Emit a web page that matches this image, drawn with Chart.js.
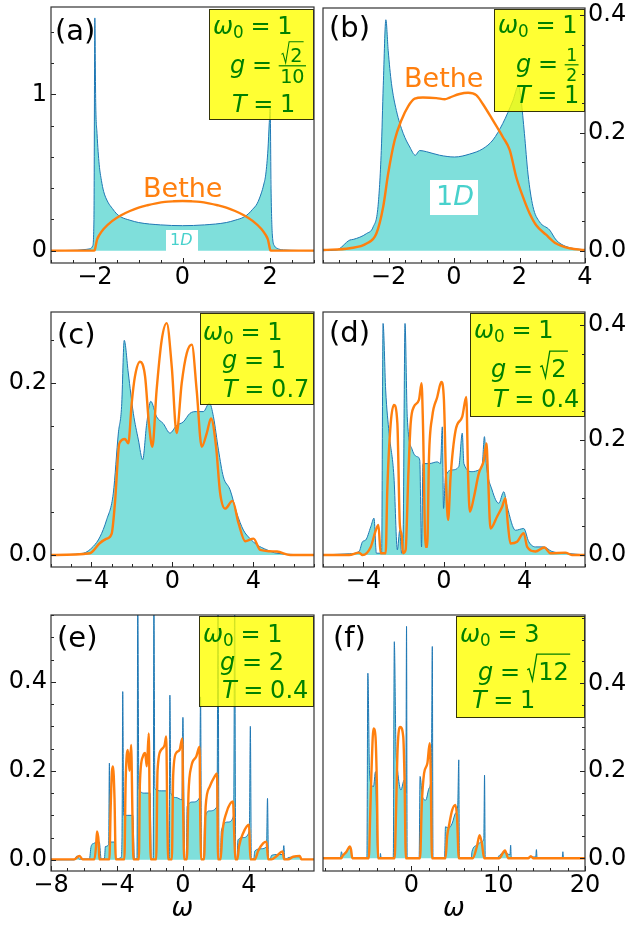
<!DOCTYPE html>
<html><head><meta charset="utf-8">
<script src="https://cdn.jsdelivr.net/npm/chart.js@4/dist/chart.umd.min.js"></script>
<style>
html,body{margin:0;padding:0;background:#fff;}
#wrap{position:relative;width:632px;height:925px;overflow:hidden;background:#fff;}
canvas{position:absolute;}
</style></head><body><div id="wrap">
<canvas id="ca" width="316" height="300" style="left:0px;top:0px"></canvas>
<canvas id="cb" width="316" height="300" style="left:316px;top:0px"></canvas>
<canvas id="cc" width="316" height="305" style="left:0px;top:300px"></canvas>
<canvas id="cd" width="316" height="305" style="left:316px;top:300px"></canvas>
<canvas id="ce" width="316" height="320" style="left:0px;top:605px"></canvas>
<canvas id="cf" width="316" height="320" style="left:316px;top:605px"></canvas>
</div>
<script>
// ---------------- DATA ----------------
// (a) omega0=1, g=sqrt(2)/10, T=1
const a_1D = [[-3,0],[-2.4,0.003],[-2.2,0.008],[-2.1,0.012],[-2.05,0.03],[-2.02,0.2],[-2.0,1.49],[-1.98,0.95],[-1.95,0.75],[-1.9,0.55],[-1.85,0.45],[-1.8,0.38],[-1.7,0.31],[-1.6,0.27],[-1.5,0.235],[-1.4,0.215],[-1.2,0.195],[-1.0,0.18],[-0.5,0.165],[0,0.16],[0.5,0.165],[1.0,0.18],[1.2,0.195],[1.4,0.215],[1.5,0.235],[1.6,0.265],[1.7,0.3],[1.8,0.37],[1.85,0.42],[1.9,0.49],[1.95,0.65],[1.98,0.82],[2.0,0.91],[2.02,0.4],[2.05,0.1],[2.1,0.03],[2.16,0.015],[2.3,0.005],[3,0]];
const a_bethe = [[-3,0],[-2.02,0],[-2.0,0.005],[-1.95,0.07],[-1.9,0.099],[-1.8,0.139],[-1.6,0.191],[-1.4,0.227],[-1.2,0.254],[-1.0,0.276],[-0.8,0.291],[-0.6,0.303],[-0.4,0.312],[-0.2,0.316],[0,0.318],[0.2,0.316],[0.4,0.312],[0.6,0.303],[0.8,0.291],[1.0,0.276],[1.2,0.254],[1.4,0.227],[1.6,0.191],[1.8,0.139],[1.9,0.099],[1.95,0.07],[2.0,0.005],[2.02,0],[3,0]];
const a_xTicks = [-2,0,2];
const a_yTicks = [0,1];

// (b) omega0=1, g=1/2, T=1
const b_1D = [[-4,0],[-3.59,0.001],[-3.18,0.018],[-3.08,0.019],[-2.67,0.029],[-2.47,0.04],[-2.32,0.075],[-2.22,0.17],[-2.16,0.28],[-2.08,0.392],[-2.01,0.34],[-1.91,0.284],[-1.76,0.238],[-1.55,0.199],[-1.35,0.176],[-1.18,0.162],[-1.05,0.17],[-0.84,0.168],[-0.44,0.162],[0.02,0.159],[0.48,0.164],[0.88,0.173],[1.19,0.188],[1.49,0.216],[1.8,0.255],[1.97,0.28],[2.05,0.255],[2.15,0.199],[2.26,0.13],[2.41,0.075],[2.61,0.049],[2.92,0.035],[3.12,0.018],[3.42,0.007],[4,0.001]];
const b_bethe = [[-4,0.001],[-3.18,0.004],[-2.67,0.012],[-2.37,0.029],[-2.16,0.075],[-2.01,0.131],[-1.81,0.188],[-1.61,0.221],[-1.4,0.245],[-1.2,0.258],[-0.95,0.26],[-0.54,0.259],[-0.28,0.257],[-0.13,0.26],[0.17,0.266],[0.43,0.268],[0.68,0.264],[0.88,0.249],[1.19,0.221],[1.49,0.193],[1.7,0.171],[1.9,0.125],[2.1,0.092],[2.31,0.063],[2.51,0.043],[2.81,0.027],[3.12,0.012],[3.53,0.004],[4,0.001]];
const b_xTicks = [-2,0,2,4];
const b_yTicks = [0,0.2,0.4];

// (c) omega0=1, g=1, T=0.7
const c_1D = [[-6,0],[-4.41,0.002],[-3.91,0.01],[-3.58,0.021],[-3.25,0.041],[-2.92,0.072],[-2.67,0.142],[-2.51,0.173],[-2.38,0.25],[-2.18,0.212],[-1.93,0.165],[-1.68,0.134],[-1.47,0.111],[-1.27,0.153],[-1.07,0.179],[-0.78,0.161],[-0.45,0.153],[-0.12,0.142],[0.21,0.151],[0.54,0.155],[0.87,0.165],[1.2,0.167],[1.53,0.167],[1.83,0.177],[2.03,0.161],[2.28,0.122],[2.52,0.091],[2.85,0.076],[3.18,0.049],[3.51,0.029],[3.84,0.019],[4.17,0.012],[4.67,0.006],[5.17,0.002],[7,0]];
const c_bethe = [[-6,0],[-4.08,0.002],[-3.58,0.014],[-3.25,0.019],[-3.0,0.025],[-2.84,0.06],[-2.62,0.13],[-2.34,0.135],[-2.18,0.13],[-2.01,0.177],[-1.85,0.208],[-1.6,0.225],[-1.35,0.208],[-1.16,0.153],[-0.99,0.126],[-0.78,0.192],[-0.53,0.25],[-0.28,0.27],[-0.03,0.219],[0.21,0.142],[0.46,0.2],[0.71,0.235],[0.96,0.245],[1.2,0.192],[1.45,0.126],[1.7,0.142],[1.91,0.159],[2.16,0.126],[2.36,0.072],[2.61,0.054],[2.97,0.063],[3.27,0.037],[3.6,0.016],[4.01,0.019],[4.34,0.006],[5.17,0.004],[5.83,0],[7,0]];
const c_xTicks = [-4,0,4];
const c_yTicks = [0,0.2];

// (d) omega0=1, g=sqrt(2), T=0.4
const d_1D = [[-6,0],[-4.7,0.002],[-4.21,0.006],[-4.04,0.023],[-3.88,0.026],[-3.63,0.049],[-3.47,0.064],[-3.35,0.003],[-3.09,0.003],[-3.02,0.403],[-2.89,0.287],[-2.72,0.212],[-2.48,0.136],[-2.31,0.009],[-2.19,0.043],[-2.1,0.003],[-2.03,0.02],[-1.93,0.403],[-1.82,0.241],[-1.57,0.183],[-1.32,0.171],[-1.2,0.165],[-1.11,0.014],[-1.04,0.159],[-0.74,0.159],[-0.33,0.162],[-0.17,0.159],[-0.08,0.223],[-0.02,0.081],[0.08,0.136],[0.41,0.148],[0.74,0.154],[0.91,0.212],[0.99,0.159],[1.4,0.145],[1.73,0.148],[1.9,0.157],[2.01,0.206],[2.1,0.159],[2.39,0.113],[2.72,0.09],[2.97,0.11],[3.14,0.084],[3.55,0.043],[3.96,0.046],[4.21,0.023],[4.54,0.014],[4.95,0.014],[5.36,0.006],[6.02,0.003],[7,0]];
const d_bethe = [[-6,0],[-4.7,0],[-4.21,0.004],[-4.04,0],[-3.63,0.014],[-3.38,0.043],[-3.25,0.052],[-3.14,0.003],[-2.89,0.003],[-2.81,0.113],[-2.64,0.229],[-2.48,0.261],[-2.31,0.229],[-2.19,0.055],[-2.1,0.035],[-2.03,0.003],[-1.9,0.009],[-1.77,0.136],[-1.65,0.229],[-1.49,0.258],[-1.24,0.27],[-1.11,0.299],[-1.04,0.229],[-0.91,0.014],[-0.83,0.014],[-0.74,0.171],[-0.58,0.241],[-0.33,0.275],[-0.13,0.301],[0,0.27],[0.12,0.113],[0.21,0.061],[0.33,0.136],[0.58,0.217],[0.91,0.241],[1.11,0.275],[1.2,0.136],[1.29,0.075],[1.49,0.101],[1.73,0.142],[1.98,0.165],[2.11,0.194],[2.19,0.136],[2.31,0.046],[2.64,0.067],[2.89,0.084],[3.05,0.099],[3.17,0.055],[3.3,0.02],[3.63,0.023],[3.96,0.038],[4.13,0.014],[4.54,0.006],[4.98,0.013],[5.28,0.003],[6.02,0.004],[6.35,0],[7,0]];
const d_xTicks = [-4,0,4];
const d_yTicks = [0,0.2,0.4];

// (e) omega0=1, g=2, T=0.4
const e_1D = [[-8,0],[-6.59,0],[-6.42,0.009],[-6.28,0.002],[-5.67,0.002],[-5.57,0.03],[-5.41,0.037],[-5.07,0.04],[-4.96,0.002],[-4.76,0.003],[-4.7,0.03],[-4.5,0.035],[-4.46,0.217],[-4.4,0.04],[-4.15,0.04],[-4.05,0.002],[-3.75,0.005],[-3.69,0.06],[-3.65,0.378],[-3.59,0.1],[-3.34,0.1],[-3.04,0.1],[-2.94,0.002],[-2.78,0.003],[-2.74,0.6],[-2.67,0.16],[-2.33,0.15],[-1.99,0.15],[-1.92,0.002],[-1.8,0.003],[-1.76,0.6],[-1.7,0.16],[-1.32,0.155],[-0.95,0.155],[-0.89,0.002],[-0.83,0.003],[-0.79,0.37],[-0.73,0.15],[-0.41,0.14],[-0.06,0.135],[0,0.32],[0.06,0.13],[0.12,0.002],[0.2,0.003],[0.26,0.12],[0.61,0.13],[1.01,0.14],[1.07,0.366],[1.13,0.002],[1.26,0.003],[1.32,0.09],[1.62,0.11],[2.07,0.12],[2.13,0.6],[2.19,0.002],[2.27,0.003],[2.33,0.065],[2.74,0.085],[3.08,0.1],[3.14,0.6],[3.2,0.002],[3.28,0.003],[3.34,0.045],[3.65,0.05],[4.03,0.065],[4.09,0.3],[4.15,0.002],[4.3,0.003],[4.36,0.02],[4.76,0.025],[5.07,0.03],[5.13,0.138],[5.19,0.002],[5.31,0.003],[5.37,0.01],[5.78,0.012],[6.06,0.012],[6.12,0.032],[6.18,0.002],[6.32,0.003],[6.38,0.005],[7.09,0.007],[7.19,0.001],[7.95,0.001]];
const e_bethe = [[-8,0.001],[-6.59,0.001],[-6.28,0.009],[-6.08,0.001],[-5.37,0.001],[-5.27,0.03],[-5.21,0.064],[-5.11,0.04],[-5.07,0.001],[-4.46,0.001],[-4.38,0.12],[-4.3,0.2],[-4.24,0.21],[-4.15,0.14],[-4.07,0.001],[-3.55,0.001],[-3.47,0.18],[-3.34,0.247],[-3.24,0.2],[-3.14,0.258],[-3.06,0.1],[-3.0,0.001],[-2.67,0.001],[-2.61,0.17],[-2.43,0.232],[-2.29,0.24],[-2.19,0.21],[-2.07,0.284],[-2.01,0.1],[-1.95,0.001],[-1.62,0.001],[-1.54,0.2],[-1.32,0.247],[-1.11,0.258],[-1.01,0.277],[-0.95,0.1],[-0.89,0.001],[-0.67,0.001],[-0.59,0.19],[-0.41,0.24],[-0.2,0.247],[-0.04,0.273],[0.02,0.1],[0.08,0.001],[0.24,0.001],[0.34,0.15],[0.51,0.21],[0.81,0.232],[1.01,0.254],[1.05,0.1],[1.11,0.001],[1.28,0.001],[1.38,0.12],[1.62,0.164],[1.92,0.187],[2.07,0.194],[2.13,0.001],[2.29,0.001],[2.39,0.06],[2.63,0.105],[3.04,0.131],[3.12,0.05],[3.18,0.001],[3.3,0.001],[3.4,0.03],[3.65,0.06],[4.01,0.079],[4.09,0.001],[4.36,0.001],[4.56,0.02],[4.86,0.037],[5.07,0.041],[5.17,0.001],[5.37,0.001],[5.67,0.008],[6.04,0.019],[6.14,0.001],[6.38,0.001],[6.69,0.007],[7.09,0.009],[7.19,0.001],[7.95,0.001]];
const e_xTicks = [-8,-4,0,4];
const e_yTicks = [0,0.2,0.4];

// (f) omega0=3, g=sqrt(12), T=1
const f_1D = [[-10.2,0],[-8.19,0.001],[-8.08,0.015],[-7.96,0.008],[-7.5,0.015],[-7.12,0.024],[-6.97,0.02],[-6.86,0.001],[-5.14,0.001],[-5.03,0.423],[-4.84,0.2],[-4.65,0.17],[-4.38,0.164],[-4.15,0.198],[-4.0,0.07],[-3.85,0.001],[-3.62,0.001],[-3.58,0.011],[-3.5,0.001],[-2.1,0.001],[-1.98,0.495],[-1.79,0.25],[-1.6,0.2],[-1.22,0.156],[-0.84,0.179],[-0.65,0.15],[-0.57,0.53],[-0.5,0.001],[0.88,0.001],[0.99,0.187],[1.26,0.141],[1.64,0.133],[2.02,0.16],[2.29,0.2],[2.4,0.484],[2.48,0.001],[3.81,0.001],[3.92,0.072],[4.3,0.069],[4.69,0.08],[5.07,0.103],[5.33,0.12],[5.45,0.225],[5.52,0.001],[6.9,0.001],[6.97,0.015],[7.54,0.03],[8.11,0.038],[8.34,0.045],[8.42,0.19],[8.5,0.001],[9.94,0.001],[10.02,0.004],[10.4,0.011],[10.78,0.013],[11.35,0.008],[11.43,0.03],[11.5,0.001],[13.07,0.001],[13.83,0.003],[14.32,0.003],[14.4,0.02],[14.48,0.001],[17.37,0.001],[17.45,0.015],[17.52,0.001],[20,0]];
const f_bethe = [[-10.2,0],[-8.08,0],[-7.96,0.005],[-7.5,0.015],[-7.12,0.027],[-6.97,0.02],[-6.82,0],[-4.92,0],[-4.76,0.1],[-4.61,0.2],[-4.38,0.297],[-4.15,0.278],[-4.0,0.18],[-3.85,0],[-1.94,0],[-1.79,0.1],[-1.6,0.25],[-1.3,0.3],[-0.95,0.278],[-0.8,0.18],[-0.65,0],[0.99,0],[1.18,0.12],[1.45,0.194],[1.83,0.217],[2.1,0.263],[2.21,0.2],[2.36,0],[3.92,0],[4.11,0.05],[4.3,0.072],[4.69,0.11],[5.07,0.122],[5.26,0.09],[5.45,0],[7.05,0],[7.54,0.027],[7.85,0.053],[8.11,0.035],[8.38,0],[10.09,0],[10.78,0.018],[11.16,0],[13.45,0],[13.75,0.005],[14.06,0],[20,0]];
const f_xTicks = [0,10,20];
const f_yTicks = [0,0.2,0.4];

// ---------------- STYLE / LAYOUT ----------------
const FONT = "'DejaVu Sans', sans-serif";
const ORANGE = '#ff7f0e', BLUE = '#1f77b4', TEAL = 'rgba(72,209,204,0.7)', TEAL_TXT = '#48d1cc', GREEN = '#008000';

const W0 = v => [{s:'ω',i:1},{sub:'0'},{rel:'='},{s:v}];
const G = rest => [{s:'g',i:1},{rel:'='}].concat(rest);
const TT = v => [{s:'T',i:1},{rel:'='},{s:v}];

const PANELS = [
 {id:'ca', canvas:[0,0], pad:{left:0,right:2,top:7,bottom:0}, xh:37, yw:51, yside:'left', xr:[-3,3], yr:[-0.079,1.56], xt:a_xTicks, xm:0.5, yt:a_yTicks, ym:0.2, ydec:0, oneD:a_1D, bethe:a_bethe,
  label:'(a)', labelPos:[55,40], betheLbl:[143,196.5], oneDLbl:{box:[166,230,32,22], x:170, y:245, size:16},
  box:[209,9,105,111], lines:[{x:213,y:34,t:W0('1')},{x:230,y:73,t:G([{frac:[[{sqrt:'2'}],[{s:'10'}]], k:0.8}])},{x:232,y:112,t:TT('1')}]},
 {id:'cb', canvas:[316,0], pad:{left:7,right:0,top:8,bottom:0}, xh:37, yw:47, yside:'right', xr:[-4,4], yr:[-0.021,0.412], xt:b_xTicks, xm:0.5, yt:b_yTicks, ym:0.05, ydec:1, oneD:b_1D, bethe:b_bethe,
  label:'(b)', labelPos:[329,37], betheLbl:[404,87], oneDLbl:{box:[430,180,48,35], x:436, y:205, size:27},
  box:[494,9,91,103], lines:[{x:498,y:33,t:W0('1')},{x:516,y:72,t:G([{frac:[[{s:'1'}],[{s:'2'}]], k:0.72}])},{x:516,y:103,t:TT('1')}]},
 {id:'cc', canvas:[0,300], pad:{left:0,right:2,top:12,bottom:0}, xh:38, yw:51, yside:'left', xr:[-6,7], yr:[-0.014,0.283], xt:c_xTicks, xm:1, yt:c_yTicks, ym:0.05, ydec:1, oneD:c_1D, bethe:c_bethe,
  label:'(c)', labelPos:[57,344],
  box:[200,313,114,92], lines:[{x:203,y:340,t:W0('1')},{x:222,y:368,t:G([{s:'1'}])},{x:223,y:397,t:TT('0.7')}]},
 {id:'cd', canvas:[316,300], pad:{left:7,right:0,top:12,bottom:0}, xh:38, yw:47, yside:'right', xr:[-6,7], yr:[-0.021,0.423], xt:d_xTicks, xm:1, yt:d_yTicks, ym:0.05, ydec:1, oneD:d_1D, bethe:d_bethe,
  label:'(d)', labelPos:[329,342],
  box:[470,313,115,104], lines:[{x:474,y:338,t:W0('1')},{x:491,y:377,t:G([{sqrt:'2'}])},{x:493,y:407,t:TT('0.4')}]},
 {id:'ce', canvas:[0,605], pad:{left:0,right:2,top:10,bottom:0}, xh:54, yw:51, yside:'left', xr:[-8,7.95], yr:[-0.025,0.55], xt:e_xTicks, xm:1, yt:e_yTicks, ym:0.05, ydec:1, oneD:e_1D, bethe:e_bethe,
  label:'(e)', labelPos:[57,647], xlabel:true,
  box:[199,616,115,91], lines:[{x:203,y:642,t:W0('1')},{x:220,y:670,t:G([{s:'2'}])},{x:222,y:698,t:TT('0.4')}]},
 {id:'cf', canvas:[316,605], pad:{left:7,right:0,top:10,bottom:0}, xh:54, yw:47, yside:'right', xr:[-10.2,20], yr:[-0.029,0.556], xt:f_xTicks, xm:2, yt:f_yTicks, ym:0.05, ydec:1, oneD:f_1D, bethe:f_bethe,
  label:'(f)', labelPos:[333,647], xlabel:true,
  box:[456,616,129,102], lines:[{x:460,y:642,t:W0('3')},{x:478,y:680,t:G([{sqrt:'12'}])},{x:472,y:708,t:TT('1')}]}
];

// ---------------- math-text helper ----------------
function setF(ctx, size, it) { ctx.font = (it ? 'italic ' : '') + size + 'px ' + FONT; }
function runTokens(ctx, toks, x0, bl, size, draw) {
  let x = x0;
  for (const t of toks) {
    if (t.rel !== undefined) {
      x += 0.278 * size; setF(ctx, size, false);
      if (draw) ctx.fillText(t.rel, x, bl);
      x += ctx.measureText(t.rel).width + 0.278 * size;
    } else if (t.sub !== undefined) {
      const s = size * 0.7; setF(ctx, s, false);
      if (draw) ctx.fillText(t.sub, x, bl + 0.18 * size);
      x += ctx.measureText(t.sub).width;
    } else if (t.frac) {
      const s = size * (t.k || 0.72);
      const nw = runTokens(ctx, t.frac[0], 0, 0, s, false);
      const dw = runTokens(ctx, t.frac[1], 0, 0, s, false);
      const w = Math.max(nw, dw) + 0.12 * size;
      const by = bl - 0.3 * size;
      if (draw) {
        runTokens(ctx, t.frac[0], x + (w - nw) / 2, by - 0.14 * size, s, true);
        runTokens(ctx, t.frac[1], x + (w - dw) / 2, by + 0.14 * size + 0.73 * s, s, true);
        ctx.lineWidth = Math.max(1, 0.05 * size);
        ctx.beginPath(); ctx.moveTo(x, by); ctx.lineTo(x + w, by); ctx.stroke();
      }
      x += w;
    } else if (t.sqrt !== undefined) {
      setF(ctx, size, false); const rw = ctx.measureText(t.sqrt).width;
      const top = bl - 1.08 * size, rx = x + 0.42 * size;
      if (draw) {
        ctx.lineWidth = Math.max(1, 0.055 * size); ctx.lineJoin = 'miter';
        ctx.beginPath();
        ctx.moveTo(x + 0.02 * size, bl - 0.42 * size);
        ctx.lineTo(x + 0.1 * size, bl - 0.47 * size);
        ctx.lineTo(x + 0.24 * size, bl + 0.02 * size);
        ctx.lineTo(rx, top);
        ctx.lineTo(rx + rw + 0.12 * size, top);
        ctx.stroke();
        setF(ctx, size, false); ctx.fillText(t.sqrt, rx + 0.06 * size, bl);
      }
      x = rx + rw + 0.12 * size;
    } else {
      setF(ctx, size, !!t.i);
      if (draw) ctx.fillText(t.s, x, bl);
      x += ctx.measureText(t.s).width;
    }
  }
  return x - x0;
}

function decor(p) {
  return {
    id: 'decor_' + p.id,
    afterDatasetsDraw(chart) {
      const ctx = chart.ctx;
      ctx.save();
      ctx.translate(-p.canvas[0], -p.canvas[1]);
      ctx.textBaseline = 'alphabetic'; ctx.textAlign = 'left';
      if (p.oneDLbl) {
        const o = p.oneDLbl;
        ctx.fillStyle = '#fff'; ctx.fillRect(o.box[0], o.box[1], o.box[2], o.box[3]);
        ctx.fillStyle = TEAL_TXT;
        runTokens(ctx, [{s:'1'},{s:'D',i:1}], o.x, o.y, o.size, true);
      }
      if (p.betheLbl) {
        setF(ctx, 27, false); ctx.fillStyle = ORANGE;
        ctx.fillText('Bethe', p.betheLbl[0], p.betheLbl[1]);
      }
      const b = p.box;
      ctx.fillStyle = 'rgba(255,255,0,0.8)'; ctx.fillRect(b[0], b[1], b[2], b[3]);
      ctx.strokeStyle = 'rgba(0,0,0,0.8)'; ctx.lineWidth = 1;
      ctx.strokeRect(b[0] + 0.5, b[1] + 0.5, b[2] - 1, b[3] - 1);
      ctx.fillStyle = GREEN; ctx.strokeStyle = GREEN;
      for (const L of p.lines) runTokens(ctx, L.t, L.x, L.y, 24, true);
      setF(ctx, 29, false); ctx.fillStyle = '#000';
      ctx.fillText(p.label, p.labelPos[0], p.labelPos[1]);
      ctx.restore();
    },
    afterDraw(chart) {
      const ctx = chart.ctx, ca = chart.chartArea, xs = chart.scales.x, ys = chart.scales.y;
      ctx.save();
      ctx.strokeStyle = '#222'; ctx.lineWidth = 1;
      const seg = (x1, y1, x2, y2) => { ctx.beginPath(); ctx.moveTo(x1, y1); ctx.lineTo(x2, y2); ctx.stroke(); };
      for (let k = Math.ceil(p.xr[0] / p.xm - 1e-9); k * p.xm <= p.xr[1] + 1e-9; k++) {
        const v = k * p.xm;
        const px = Math.round(xs.getPixelForValue(v)) + 0.5;
        const major = p.xt.some(t => Math.abs(t - v) < 1e-6);
        seg(px, ca.bottom, px, ca.bottom - (major ? 5 : 3));
      }
      for (let k = Math.ceil(p.yr[0] / p.ym - 1e-9); k * p.ym <= p.yr[1] + 1e-9; k++) {
        const v = k * p.ym;
        const py = Math.round(ys.getPixelForValue(v)) + 0.5;
        const major = p.yt.some(t => Math.abs(t - v) < 1e-6);
        const L = major ? 5 : 3;
        if (p.yside === 'left') seg(ca.left, py, ca.left + L, py);
        else seg(ca.right, py, ca.right - L, py);
      }
      ctx.strokeStyle = '#333'; ctx.lineWidth = 1.2;
      ctx.strokeRect(ca.left, ca.top, ca.right - ca.left, ca.bottom - ca.top);
      ctx.restore();
    }
  };
}

const fmtNum = (v, dec) => (v < 0 ? '\u2212' : '') + Math.abs(v).toFixed(dec);

function makeChart(p) {
  const toXY = arr => arr.map(([x, y]) => ({x, y}));
  const tickFont = {family: FONT, size: 24, lineHeight: 1.2};
  return new Chart(document.getElementById(p.id), {
    type: 'line',
    data: {datasets: [
      {data: toXY(p.bethe), borderColor: ORANGE, borderWidth: 2.4, pointRadius: 0, fill: false, cubicInterpolationMode: 'monotone', order: 0},
      {data: toXY(p.oneD), borderColor: BLUE, borderWidth: 1, pointRadius: 0, fill: 'origin', backgroundColor: TEAL, cubicInterpolationMode: 'monotone', order: 1}
    ]},
    options: {
      responsive: false, animation: false, events: [], devicePixelRatio: 1,
      layout: {padding: p.pad},
      plugins: {legend: {display: false}, tooltip: {enabled: false}},
      scales: {
        x: {
          type: 'linear', position: 'bottom', min: p.xr[0], max: p.xr[1],
          grid: {display: false, drawTicks: false}, border: {display: false},
          ticks: {font: tickFont, color: '#000', padding: 0, maxRotation: 0, autoSkip: false,
                  callback: v => fmtNum(v, 0)},
          afterBuildTicks: s => { s.ticks = p.xt.map(v => ({value: v})); },
          afterFit: s => { s.height = p.xh; s.paddingLeft = 0; s.paddingRight = 0; },
          title: {display: !!p.xlabel, text: 'ω', color: '#000', font: {family: FONT, size: 26, style: 'italic', lineHeight: 1.2}, padding: {top: 0, bottom: 0}}
        },
        y: {
          type: 'linear', position: p.yside, min: p.yr[0], max: p.yr[1],
          grid: {display: false, drawTicks: false}, border: {display: false},
          ticks: {font: tickFont, color: '#000', padding: p.yside === 'left' ? 4 : 3, autoSkip: false,
                  callback: v => fmtNum(v, p.ydec)},
          afterBuildTicks: s => { s.ticks = p.yt.map(v => ({value: v})); },
          afterFit: s => { s.width = p.yw; s.paddingTop = 0; s.paddingBottom = 0; }
        }
      }
    },
    plugins: [decor(p)]
  });
}

PANELS.forEach(makeChart);
</script>
</body></html>
